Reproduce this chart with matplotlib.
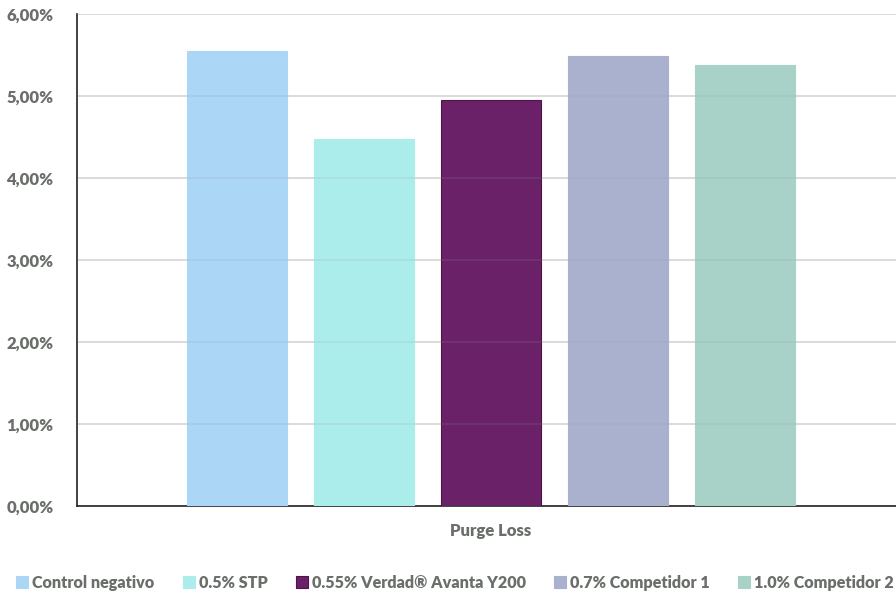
import matplotlib
matplotlib.use("Agg")
import matplotlib.pyplot as plt
from matplotlib.patches import Patch

categories = ["Control negativo", "0.5% STP", "0.55% Verdad® Avanta Y200",
              "0.7% Competidor 1", "1.0% Competidor 2"]
values = [5.55, 4.48, 4.95, 5.49, 5.38]
colors = ["#ABD6F5", "#AAEDEA", "#6A2168", "#A9B1CF", "#A8D1C8"]
edges = ["#ABD6F5", "#AAEDEA", "#4A1548", "#A9B1CF", "#A8D1C8"]
yticks = [0, 1, 2, 3, 4, 5, 6]
ytick_labels = ["0,00%", "1,00%", "2,00%", "3,00%", "4,00%", "5,00%", "6,00%"]
xlabel = "Purge Loss"

plt.rcParams['font.family'] = ['Lato', 'DejaVu Sans']
W, H = 896, 594
fig = plt.figure(figsize=(W/100, H/100), dpi=100)
left, right, top, bottom = 77, 896, 14, 506
ax = fig.add_axes([left/W, 1-bottom/H, (right-left)/W, (bottom-top)/H])

unit = 127.0
c0 = 237.0
xs = list(range(len(values)))
ax.bar(xs, values, width=100/unit, color=colors, edgecolor=edges, linewidth=0.8, zorder=3)
ax.set_xlim((left-c0)/unit, (right-c0)/unit)
ax.set_ylim(0, 6)
ax.set_yticks(yticks)
ax.set_yticklabels(ytick_labels)
ax.set_xticks([])
ax.grid(axis='y', color='#E3E3E3', linewidth=1.2, zorder=0)
for s in ['top', 'right']:
    ax.spines[s].set_visible(False)
ax.spines['left'].set_color('#222222')
ax.spines['bottom'].set_color('#222222')
ax.spines['left'].set_linewidth(1.2)
ax.spines['bottom'].set_linewidth(1.2)
ax.tick_params(axis='y', length=0, pad=17, labelsize=12, labelcolor='#6A6F6A')
for t in ax.get_yticklabels():
    t.set_fontweight('heavy')
for y in yticks[1:]:
    ax.axhline(y, color='#999999', alpha=0.18, linewidth=1.2, zorder=4)

fig.text(491/W, 1-531/H, xlabel, ha='center', va='center', fontsize=12,
         fontweight='heavy', color='#6A6F6A')

handles = [Patch(facecolor=c, edgecolor=e, linewidth=0.8) for c, e in zip(colors, edges)]
leg = fig.legend(handles, categories, loc='center', bbox_to_anchor=(455/W, 1-583/H), ncol=5,
                 frameon=False, fontsize=11.6, handlelength=0.75, handleheight=0.75,
                 handletextpad=0.25, columnspacing=1.75, borderaxespad=0)
for t in leg.get_texts():
    t.set_color('#6A6F6A')
    t.set_fontweight('heavy')

fig.savefig("out.png", dpi=100)
